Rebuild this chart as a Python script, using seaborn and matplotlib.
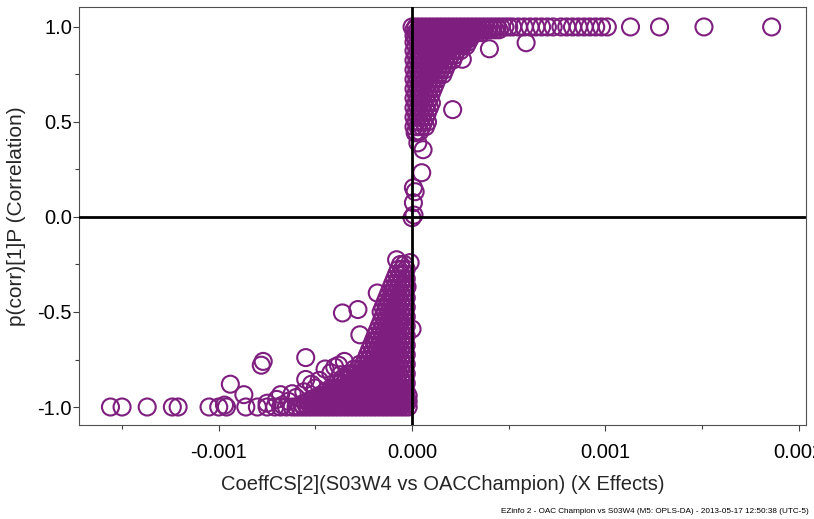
import pandas as pd
import matplotlib
matplotlib.use("Agg")
import matplotlib.pyplot as plt
from matplotlib.ticker import MultipleLocator, FormatStrFormatter
import seaborn as sns

# ---- datos (S-plot OPLS-DA) ----

# banda densa superior, p(corr) ~ 1
top_rows_y = [1.00, 0.985, 0.97, 0.955, 0.94]
top_rows_x = [
    [0.00000, 0.00002, 0.00004, 0.00006, 0.00008, 0.00010, 0.00012, 0.00014, 0.00016, 0.00018,
     0.00020, 0.00022, 0.00024, 0.00026, 0.00028, 0.00030, 0.00032, 0.00034, 0.00036, 0.00038,
     0.00040, 0.00042, 0.00044, 0.00046, 0.00048, 0.00050, 0.00052, 0.00055, 0.00058, 0.00061,
     0.00064, 0.00067, 0.00070, 0.00073, 0.00077, 0.00080, 0.00083, 0.00086, 0.00089, 0.00092,
     0.00095, 0.00098, 0.00101, 0.00113, 0.00128, 0.00151, 0.00186],
    [0.00001, 0.00003, 0.00005, 0.00007, 0.00009, 0.00011, 0.00013, 0.00015, 0.00017, 0.00019,
     0.00021, 0.00023, 0.00025, 0.00027, 0.00029, 0.00031, 0.00033, 0.00035, 0.00037, 0.00039,
     0.00041, 0.00043, 0.00045],
    [0.00002, 0.00004, 0.00006, 0.00008, 0.00010, 0.00012, 0.00014, 0.00016, 0.00018, 0.00020,
     0.00022, 0.00024, 0.00026, 0.00028, 0.00030, 0.00032, 0.00034, 0.00036],
    [0.00001, 0.00003, 0.00005, 0.00007, 0.00009, 0.00011, 0.00013, 0.00015, 0.00017, 0.00019,
     0.00021, 0.00023, 0.00025, 0.00027, 0.00029, 0.00031],
    [0.00002, 0.00004, 0.00006, 0.00008, 0.00010, 0.00012, 0.00014, 0.00016, 0.00018, 0.00020,
     0.00022, 0.00024, 0.00026, 0.00028, 0.00030],
]

# banda vertical superior (coef > 0, p(corr) 0.45 - 0.92)
upper_rows_y = [0.92, 0.90, 0.875, 0.85, 0.825, 0.80, 0.775, 0.75, 0.725, 0.70,
                0.675, 0.65, 0.625, 0.60, 0.575, 0.55, 0.525, 0.50, 0.475, 0.45]
upper_rows_x = [
    [0.00001, 0.00003, 0.00005, 0.00007, 0.00009, 0.00011, 0.00013, 0.00015, 0.00017, 0.00019,
     0.00021, 0.00023, 0.00025, 0.00027, 0.00029],
    [0.00002, 0.00004, 0.00006, 0.00008, 0.00010, 0.00012, 0.00014, 0.00016, 0.00018, 0.00020,
     0.00022, 0.00024, 0.00026, 0.00028],
    [0.00001, 0.00003, 0.00005, 0.00007, 0.00009, 0.00011, 0.00013, 0.00015, 0.00017, 0.00019,
     0.00021, 0.00023, 0.00025],
    [0.00002, 0.00004, 0.00006, 0.00008, 0.00010, 0.00012, 0.00014, 0.00016, 0.00018, 0.00020,
     0.00022],
    [0.00001, 0.00003, 0.00005, 0.00007, 0.00009, 0.00011, 0.00013, 0.00015, 0.00017, 0.00019,
     0.00021],
    [0.00002, 0.00004, 0.00006, 0.00008, 0.00010, 0.00012, 0.00014, 0.00016, 0.00018],
    [0.00001, 0.00003, 0.00005, 0.00007, 0.00009, 0.00011, 0.00013, 0.00015, 0.00017],
    [0.00002, 0.00004, 0.00006, 0.00008, 0.00010, 0.00012, 0.00014, 0.00016],
    [0.00001, 0.00003, 0.00005, 0.00007, 0.00009, 0.00011, 0.00013],
    [0.00002, 0.00004, 0.00006, 0.00008, 0.00010, 0.00012],
    [0.00001, 0.00003, 0.00005, 0.00007, 0.00009, 0.00011],
    [0.00002, 0.00004, 0.00006, 0.00008, 0.00010],
    [0.00001, 0.00003, 0.00005, 0.00007, 0.00009],
    [0.00002, 0.00004, 0.00006, 0.00008, 0.00010],
    [0.00001, 0.00003, 0.00005, 0.00007, 0.00009],
    [0.00002, 0.00004, 0.00006, 0.00008],
    [0.00001, 0.00003, 0.00005, 0.00007],
    [0.00002, 0.00004, 0.00006, 0.00008],
    [0.00001, 0.00003, 0.00005, 0.00007],
    [0.00002, 0.00004],
]

# banda densa inferior, p(corr) ~ -1
bottom_rows_y = [-1.00, -0.985, -0.97, -0.955, -0.94]
bottom_rows_x = [
    [-0.00060, -0.00058, -0.00056, -0.00054, -0.00052, -0.00050, -0.00048, -0.00046, -0.00044, -0.00042,
     -0.00040, -0.00038, -0.00036, -0.00034, -0.00032, -0.00030, -0.00028, -0.00026, -0.00024, -0.00022,
     -0.00020, -0.00018, -0.00016, -0.00014, -0.00012, -0.00010, -0.00008, -0.00006, -0.00004, -0.00002],
    [-0.00057, -0.00055, -0.00053, -0.00051, -0.00049, -0.00047, -0.00045, -0.00043, -0.00041, -0.00039,
     -0.00037, -0.00035, -0.00033, -0.00031, -0.00029, -0.00027, -0.00025, -0.00023, -0.00021, -0.00019,
     -0.00017, -0.00015, -0.00013, -0.00011, -0.00009, -0.00007, -0.00005, -0.00003],
    [-0.00054, -0.00052, -0.00050, -0.00048, -0.00046, -0.00044, -0.00042, -0.00040, -0.00038, -0.00036,
     -0.00034, -0.00032, -0.00030, -0.00028, -0.00026, -0.00024, -0.00022, -0.00020, -0.00018, -0.00016,
     -0.00014, -0.00012, -0.00010, -0.00008, -0.00006, -0.00004, -0.00002],
    [-0.00051, -0.00049, -0.00047, -0.00045, -0.00043, -0.00041, -0.00039, -0.00037, -0.00035, -0.00033,
     -0.00031, -0.00029, -0.00027, -0.00025, -0.00023, -0.00021, -0.00019, -0.00017, -0.00015, -0.00013,
     -0.00011, -0.00009, -0.00007, -0.00005, -0.00003],
    [-0.00048, -0.00046, -0.00044, -0.00042, -0.00040, -0.00038, -0.00036, -0.00034, -0.00032, -0.00030,
     -0.00028, -0.00026, -0.00024, -0.00022, -0.00020, -0.00018, -0.00016, -0.00014, -0.00012, -0.00010,
     -0.00008, -0.00006, -0.00004, -0.00002],
]

# banda vertical inferior (coef < 0, p(corr) -0.92 a -0.25)
lower_rows_y = [-0.92, -0.90, -0.875, -0.85, -0.825, -0.80, -0.775, -0.75, -0.725, -0.70,
                -0.675, -0.65, -0.625, -0.60, -0.575, -0.55, -0.525, -0.50, -0.475, -0.45,
                -0.425, -0.40, -0.375, -0.35, -0.325, -0.30, -0.275, -0.25]
lower_rows_x = [
    [-0.00045, -0.00043, -0.00041, -0.00039, -0.00037, -0.00035, -0.00033, -0.00031, -0.00029, -0.00027,
     -0.00025, -0.00023, -0.00021, -0.00019, -0.00017, -0.00015, -0.00013, -0.00011, -0.00009, -0.00007,
     -0.00005, -0.00003],
    [-0.00042, -0.00040, -0.00038, -0.00036, -0.00034, -0.00032, -0.00030, -0.00028, -0.00026, -0.00024,
     -0.00022, -0.00020, -0.00018, -0.00016, -0.00014, -0.00012, -0.00010, -0.00008, -0.00006, -0.00004],
    [-0.00039, -0.00037, -0.00035, -0.00033, -0.00031, -0.00029, -0.00027, -0.00025, -0.00023, -0.00021,
     -0.00019, -0.00017, -0.00015, -0.00013, -0.00011, -0.00009, -0.00007, -0.00005, -0.00003],
    [-0.00036, -0.00034, -0.00032, -0.00030, -0.00028, -0.00026, -0.00024, -0.00022, -0.00020, -0.00018,
     -0.00016, -0.00014, -0.00012, -0.00010, -0.00008, -0.00006, -0.00004],
    [-0.00033, -0.00031, -0.00029, -0.00027, -0.00025, -0.00023, -0.00021, -0.00019, -0.00017, -0.00015,
     -0.00013, -0.00011, -0.00009, -0.00007, -0.00005, -0.00003],
    [-0.00030, -0.00028, -0.00026, -0.00024, -0.00022, -0.00020, -0.00018, -0.00016, -0.00014, -0.00012,
     -0.00010, -0.00008, -0.00006, -0.00004],
    [-0.00027, -0.00025, -0.00023, -0.00021, -0.00019, -0.00017, -0.00015, -0.00013, -0.00011, -0.00009,
     -0.00007, -0.00005, -0.00003],
    [-0.00024, -0.00022, -0.00020, -0.00018, -0.00016, -0.00014, -0.00012, -0.00010, -0.00008, -0.00006,
     -0.00004],
    [-0.00023, -0.00021, -0.00019, -0.00017, -0.00015, -0.00013, -0.00011, -0.00009, -0.00007, -0.00005,
     -0.00003],
    [-0.00022, -0.00020, -0.00018, -0.00016, -0.00014, -0.00012, -0.00010, -0.00008, -0.00006, -0.00004],
    [-0.00021, -0.00019, -0.00017, -0.00015, -0.00013, -0.00011, -0.00009, -0.00007, -0.00005, -0.00003],
    [-0.00020, -0.00018, -0.00016, -0.00014, -0.00012, -0.00010, -0.00008, -0.00006, -0.00004],
    [-0.00019, -0.00017, -0.00015, -0.00013, -0.00011, -0.00009, -0.00007, -0.00005, -0.00003],
    [-0.00018, -0.00016, -0.00014, -0.00012, -0.00010, -0.00008, -0.00006, -0.00004],
    [-0.00017, -0.00015, -0.00013, -0.00011, -0.00009, -0.00007, -0.00005, -0.00003],
    [-0.00016, -0.00014, -0.00012, -0.00010, -0.00008, -0.00006, -0.00004],
    [-0.00015, -0.00013, -0.00011, -0.00009, -0.00007, -0.00005, -0.00003],
    [-0.00016, -0.00014, -0.00012, -0.00010, -0.00008, -0.00006, -0.00004],
    [-0.00015, -0.00013, -0.00011, -0.00009, -0.00007, -0.00005, -0.00003],
    [-0.00014, -0.00012, -0.00010, -0.00008, -0.00006, -0.00004],
    [-0.00013, -0.00011, -0.00009, -0.00007, -0.00005, -0.00003],
    [-0.00012, -0.00010, -0.00008, -0.00006, -0.00004],
    [-0.00011, -0.00009, -0.00007, -0.00005, -0.00003],
    [-0.00010, -0.00008, -0.00006, -0.00004],
    [-0.00009, -0.00007, -0.00005, -0.00003],
    [-0.00008, -0.00006, -0.00004],
    [-0.00007, -0.00005, -0.00003],
    [-0.00006, -0.00004],
]

# puntos sueltos
scatter_x = [0.00059, 0.00040, 0.00026, 0.00021, 0.00003, 0.000016, 0.000057, 0.00005, 0.000007,
             0.000016, 0.000007, 0.00000, 0.00001,
             -0.00008, -0.00001, -0.000026, 0.00000, -0.00018, -0.00036, -0.00028, -0.00027,
             -0.00078, -0.00077, -0.00055, -0.00055, -0.00094, -0.00087, -0.00040, -0.00037,
             -0.00068, -0.00075, -0.00097,
             -0.00045, -0.00048, -0.00042, -0.00050, -0.00038, -0.00035, -0.00052, -0.00056,
             -0.00060, -0.00064, -0.00067, -0.00070, -0.00062,
             -0.00156, -0.00150, -0.00137, -0.00124, -0.00121, -0.00105, -0.00100, -0.00096,
             -0.00086, -0.00080, -0.00075, -0.00071, -0.00068, -0.00065, -0.00062]
scatter_y = [0.917, 0.885, 0.83, 0.565, 0.39, 0.443, 0.354, 0.233, 0.154,
             0.133, 0.075, -0.004, 0.01,
             -0.225, -0.24, -0.367, -0.59, -0.40, -0.505, -0.487, -0.62,
             -0.78, -0.76, -0.74, -0.855, -0.88, -0.935, -0.79, -0.83,
             -0.935, -0.98, -0.99,
             -0.80, -0.86, -0.82, -0.90, -0.78, -0.76, -0.88, -0.92,
             -0.95, -0.97, -0.99, -0.96, -0.93,
             -1.0, -1.0, -1.0, -1.0, -1.0, -1.0, -1.0, -1.0,
             -1.0, -1.0, -1.0, -1.0, -1.0, -1.0, -1.0]


def aplanar(rows_y, rows_x):
    xs, ys = [], []
    for yv, fila in zip(rows_y, rows_x):
        xs += list(fila)
        ys += [yv] * len(fila)
    return xs, ys


partes = [aplanar(top_rows_y, top_rows_x),
          aplanar(upper_rows_y, upper_rows_x),
          aplanar(bottom_rows_y, bottom_rows_x),
          aplanar(lower_rows_y, lower_rows_x),
          (scatter_x, scatter_y)]

coef, pcorr = [], []
for px, py in partes:
    coef += px
    pcorr += py

df = pd.DataFrame({'coef': coef, 'pcorr': pcorr})

# ---- grafico ----
sns.set_theme(style="white")
plt.rcParams['font.family'] = ['Liberation Sans', 'DejaVu Sans']
plt.rcParams['axes.unicode_minus'] = False

purpura = '#7e1e7e'

fig = plt.figure(figsize=(8.14, 5.19), dpi=100)
ax = fig.add_axes([0.097, 0.181, 0.893, 0.8055])

sns.scatterplot(data=df, x='coef', y='pcorr', ax=ax, marker='o', s=150,
                facecolor='none', edgecolor=purpura, linewidth=1.5, zorder=2)

ax.axhline(0, color='black', lw=2, zorder=3)
ax.axvline(0, color='black', lw=2, zorder=3)

ax.set_xlim(-0.001723, 0.002037)
ax.set_ylim(-1.095, 1.105)

ax.xaxis.set_major_locator(MultipleLocator(0.001))
ax.xaxis.set_minor_locator(MultipleLocator(0.0005))
ax.xaxis.set_major_formatter(FormatStrFormatter('%.3f'))
ax.yaxis.set_major_locator(MultipleLocator(0.5))
ax.yaxis.set_minor_locator(MultipleLocator(0.25))
ax.yaxis.set_major_formatter(FormatStrFormatter('%.1f'))

ax.tick_params(axis='both', which='major', direction='out', length=4, width=0.8,
               color='#404040', labelsize=14.5, labelcolor='black',
               bottom=True, left=True)
ax.tick_params(axis='y', which='major', pad=1)
ax.tick_params(axis='x', which='major', pad=9)
ax.tick_params(axis='both', which='minor', direction='out', length=3, width=0.8,
               color='#404040', bottom=True, left=True)

for s in ax.spines.values():
    s.set_color('#505050')
    s.set_linewidth(0.8)

ax.set_xlabel('CoeffCS[2](S03W4 vs OACChampion) (X Effects)', fontsize=14.5, labelpad=9)
ax.set_ylabel('p(corr)[1]P (Correlation)', fontsize=15, labelpad=8)

fig.text(0.994, 0.008,
         'EZinfo 2 - OAC Champion vs S03W4 (M5: OPLS-DA) - 2013-05-17 12:50:38 (UTC-5)',
         ha='right', va='bottom', fontsize=5.9, color='black')

fig.savefig('out.png', dpi=100)
